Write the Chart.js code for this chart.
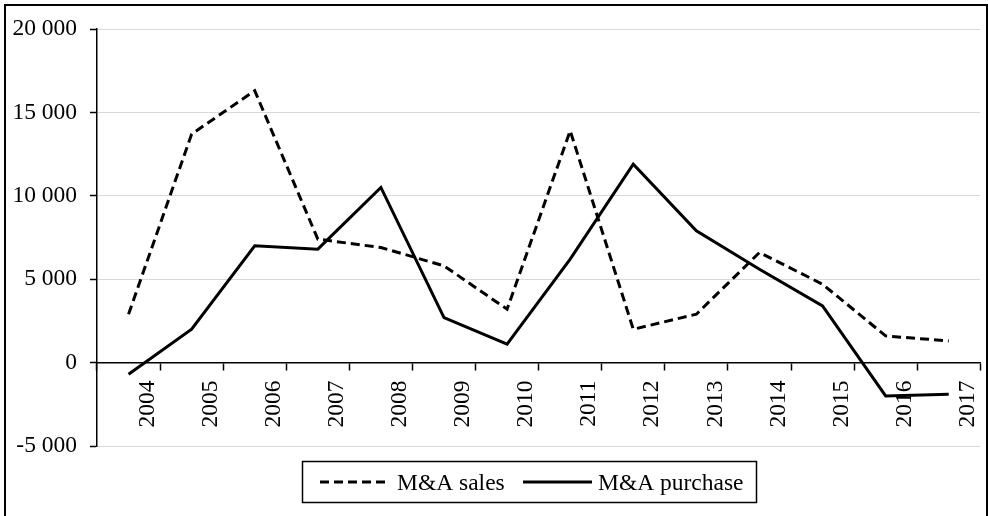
<!DOCTYPE html>
<html><head><meta charset="utf-8">
<script src="https://cdn.jsdelivr.net/npm/chart.js@4.4.1/dist/chart.umd.min.js"></script>
<style>html,body{margin:0;padding:0;background:#fff;} canvas{display:block;}</style>
</head><body>
<canvas id="c" width="988" height="516"></canvas>
<script>
const years = ['2004','2005','2006','2007','2008','2009','2010','2011','2012','2013','2014','2015','2016','2017'];
const maSales = [2900,13700,16300,7400,6900,5800,3200,13900,2000,2900,6600,4700,1600,1300];
const maPurchase = [-700,2000,7000,6800,10500,2700,1100,6200,11900,7900,5600,3400,-2000,-1900];
const yTicks = [-5000,0,5000,10000,15000,20000];
const seriesNames = ['M&A sales','M&A purchase'];

const FONT_FAMILY = "'Liberation Serif','Times New Roman',serif";
const FONT = {family: FONT_FAMILY, size: 23.5};

function fmt(v){
  const s = String(Math.abs(v)).replace(/\B(?=(\d{3})+(?!\d))/g,' ');
  return (v < 0 ? '-' : '') + s;
}

const frameAndLegend = {
  id: 'frameAndLegend',
  afterDraw(chart){
    const c = chart.ctx;
    c.save();
    c.strokeStyle = '#000';
    c.lineWidth = 2;
    c.beginPath();
    c.moveTo(5, chart.height + 5);
    c.lineTo(5, 5);
    c.lineTo(chart.width - 1, 5);
    c.lineTo(chart.width - 1, chart.height + 5);
    c.stroke();
    // legend box
    c.lineWidth = 1.5;
    c.strokeRect(302.5, 461.5, 454, 41);
    const items = [{x0:320, x1:388, tx:397}, {x0:523, x1:592, tx:598}];
    c.font = FONT.size + 'px ' + FONT_FAMILY;
    c.fillStyle = '#000';
    c.textBaseline = 'alphabetic';
    chart.data.datasets.forEach((ds, i) => {
      const it = items[i];
      c.lineWidth = ds.borderWidth;
      c.setLineDash(ds.borderDash || []);
      c.beginPath(); c.moveTo(it.x0, 482); c.lineTo(it.x1, 482); c.stroke();
      c.setLineDash([]);
      c.fillText(ds.label, it.tx, 490);
    });
    c.restore();
  }
};

new Chart(document.getElementById('c').getContext('2d'), {
  type: 'line',
  data: {
    labels: years,
    datasets: [
      {label: seriesNames[0], data: maSales, borderColor: '#000', borderWidth: 3, borderDash: [9,5], pointRadius: 0, fill: false, tension: 0},
      {label: seriesNames[1], data: maPurchase, borderColor: '#000', borderWidth: 3, pointRadius: 0, fill: false, tension: 0}
    ]
  },
  options: {
    responsive: false,
    animation: false,
    devicePixelRatio: 1,
    layout: {padding: {left: 5, top: 29, right: 2, bottom: 70}},
    plugins: {legend: {display: false}, tooltip: {enabled: false}},
    scales: {
      x: {
        type: 'category',
        position: {y: 0},
        offset: true,
        grid: {display: true, drawOnChartArea: false, drawTicks: true, offset: true, tickLength: 7, tickColor: '#000', tickWidth: 1.5, color: '#000'},
        border: {display: true, color: '#000', width: 1.5},
        ticks: {color: '#000', font: FONT, minRotation: 90, maxRotation: 90, autoSkip: false, labelOffset: 19, padding: 11}
      },
      y: {
        min: -5000, max: 20000,
        afterBuildTicks: s => { s.ticks = yTicks.map(v => ({value: v})); },
        afterFit: s => { s.width = 92; },
        grid: {color: ctx => (ctx.tick && ctx.tick.value === 0) ? 'rgba(0,0,0,0)' : '#d9d9d9', lineWidth: 1, tickLength: 7, tickColor: '#000', tickWidth: 1.5, drawTicks: true},
        border: {display: true, color: '#000', width: 1.5},
        ticks: {color: '#000', font: FONT, padding: 13, callback: v => fmt(v)}
      }
    }
  },
  plugins: [frameAndLegend]
});
</script>
</body></html>
